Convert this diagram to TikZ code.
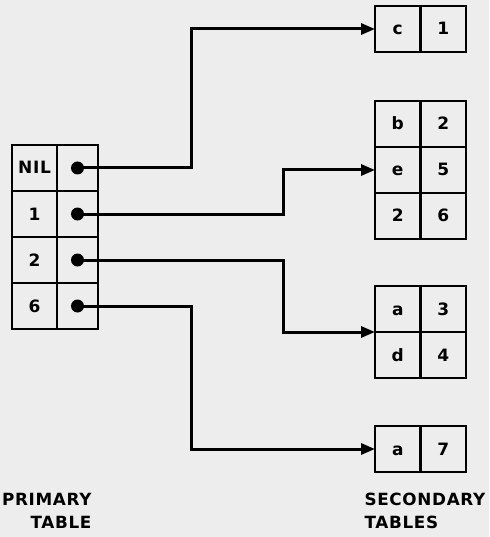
\documentclass[tikz,border=0pt]{standalone}
\usepackage{fontspec}
\newfontfamily\tblfont[LetterSpace=4]{DejaVu Sans}
\usetikzlibrary{positioning,arrows.meta}

\begin{document}
\begin{tikzpicture}[x=1pt,y=-1pt,
  font=\tblfont\bfseries\fontsize{17}{20}\selectfont,
  >={Triangle[length=14pt,width=11pt]},
  key/.style={draw,line width=2.8pt,outer sep=0pt,inner sep=0pt,
              minimum width=45pt,minimum height=46pt,
              text height=12pt,text depth=0pt},
  ptr/.style={key,minimum width=41pt},
  val/.style={key,minimum width=45.5pt},
  dot/.style={circle,fill,inner sep=0pt,minimum size=13pt},
  link/.style={->,line width=3pt},
  lbl/.style={font=\tblfont\bfseries\fontsize{16.8}{23.5}\selectfont}]
  \fill[black!7] (0,0) rectangle (489,537);
  \useasboundingbox (0,0) rectangle (489,537);
  % --- primary table: key column and pointer column ---
  \node[key] (k1) at (34.5,168) {NIL};
  \foreach \i/\t in {2/1,3/2,4/6}{%
    \pgfmathtruncatemacro{\p}{\i-1}%
    \node[key,below=0pt of k\p] (k\i) {\t};}
  \foreach \i in {1,...,4}{%
    \node[ptr,right=0pt of k\i] (p\i) {};
    \node[dot] (d\i) at (p\i) {};}
  % --- secondary tables ---
  \node[val] (t1k1) at (397.75,29) {c};
  \node[val,right=0pt of t1k1] (t1v1) {1};
  \node[val] (t2k1) at (397.75,124) {b};
  \node[val,right=0pt of t2k1] (t2v1) {2};
  \node[val,below=0pt of t2k1] (t2k2) {e};
  \node[val,right=0pt of t2k2] (t2v2) {5};
  \node[val,below=0pt of t2k2] (t2k3) {2};
  \node[val,right=0pt of t2k3] (t2v3) {6};
  \node[val] (t3k1) at (397.75,309) {a};
  \node[val,right=0pt of t3k1] (t3v1) {3};
  \node[val,below=0pt of t3k1] (t3k2) {d};
  \node[val,right=0pt of t3k2] (t3v2) {4};
  \node[val] (t4k1) at (397.75,449) {a};
  \node[val,right=0pt of t4k1] (t4v1) {7};
  % --- pointers ---
  \coordinate (bx1) at (191,0);
  \coordinate (bx2) at (283,0);
  \draw[link] (d1.center) -| (bx1 |- t1k1.west) -- (t1k1.west);
  \draw[link] (d2.center) -| (bx2 |- t2k2.west) -- (t2k2.west);
  \draw[link] (d3.center) -| (bx2 |- t3k1.south west) -- (t3k1.south west);
  \draw[link] (d4.center) -| (bx1 |- t4k1.west) -- (t4k1.west);
  % --- captions ---
  \node[lbl,align=right,anchor=east] (prim) at (95,511) {PRIMARY\\TABLE};
  \node[lbl,align=left,anchor=west] (sec) at (361,511) {SECONDARY\\TABLES};
\end{tikzpicture}
\end{document}
